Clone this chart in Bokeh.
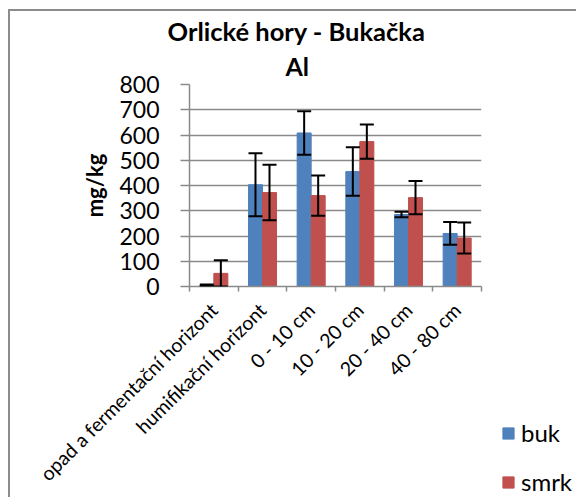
import numpy as np
from bokeh.plotting import figure
from bokeh.layouts import row, column, Spacer
from bokeh.models import (ColumnDataSource, Whisker, TeeHead, FixedTicker, Legend,
                          LegendItem, Title, Range1d)
from bokeh.embed import file_html
from bokeh.resources import INLINE

categories = ["opad a fermentační horizont", "humifikační horizont", "0 - 10 cm",
              "10 - 20 cm", "20 - 40 cm", "40 - 80 cm"]
buk = [5, 403, 608, 455, 285, 210]
buk_err = [3, 125, 86, 96, 11, 45]
smrk = [52, 372, 360, 574, 352, 192]
smrk_err = [52, 110, 80, 68, 66, 61]
y_ticks = [0, 100, 200, 300, 400, 500, 600, 700, 800]
series_names = ["buk", "smrk"]

FONT = "Lato"
GRID = "#8a8a8a"
BLUE = "#4F81BD"
RED = "#C0504D"

n = len(categories)
centers = np.arange(n) + 0.5
bw = 0.288
off = 0.144

src = ColumnDataSource(dict(
    xb=centers - off, xs=centers + off,
    buk=buk, smrk=smrk,
    bu=np.array(buk) + np.array(buk_err), bl=np.array(buk) - np.array(buk_err),
    su=np.array(smrk) + np.array(smrk_err), sl=np.array(smrk) - np.array(smrk_err),
))

p = figure(frame_width=292, frame_height=202, output_backend="svg", toolbar_location=None,
           x_range=Range1d(0, n), y_range=Range1d(0, 800),
           min_border_left=179, min_border_right=12, min_border_top=73,
           min_border_bottom=211)
p.outline_line_color = None
p.background_fill_color = "white"
p.border_fill_color = "white"

rb = p.vbar(x="xb", top="buk", width=bw, source=src, fill_color=BLUE, line_color=BLUE)
rs = p.vbar(x="xs", top="smrk", width=bw, source=src, fill_color=RED, line_color=RED)

for base, up, lo in (("xb", "bu", "bl"), ("xs", "su", "sl")):
    w = Whisker(base=base, upper=up, lower=lo, source=src, line_width=2, line_color="black",
                level="overlay",
                upper_head=TeeHead(size=14, line_width=2, line_color="black"),
                lower_head=TeeHead(size=14, line_width=2, line_color="black"))
    p.add_layout(w)

# x axis
xa = p.xaxis[0]
xa.ticker = FixedTicker(ticks=list(centers), minor_ticks=list(range(n + 1)))
xa.major_label_overrides = {float(c): lab for c, lab in zip(centers, categories)}
xa.major_label_orientation = np.pi / 4
xa.major_label_text_font = FONT
xa.major_label_text_font_size = "19.5px"
xa.major_label_text_color = "black"
xa.major_tick_line_color = None
xa.minor_tick_line_color = GRID
xa.minor_tick_line_width = 1.5
xa.minor_tick_in = 0
xa.minor_tick_out = 5
xa.axis_line_color = GRID
xa.axis_line_width = 1.5
xa.major_label_standoff = 14

# y axis
ya = p.yaxis[0]
ya.ticker = FixedTicker(ticks=y_ticks)
ya.minor_tick_line_color = None
ya.major_tick_line_color = GRID
ya.major_tick_line_width = 1.5
ya.major_tick_in = 0
ya.major_tick_out = 9
ya.axis_line_color = GRID
ya.axis_line_width = 1.5
ya.major_label_text_font = FONT
ya.major_label_text_font_size = "23px"
ya.major_label_text_color = "black"
ya.major_label_standoff = 21
ya.axis_label = "mg/kg"
ya.axis_label_text_font = FONT
ya.axis_label_text_font_style = "bold"
ya.axis_label_text_font_size = "22px"
ya.axis_label_text_color = "black"
ya.axis_label_standoff = 8

p.xgrid.grid_line_color = None
p.ygrid.grid_line_color = GRID
p.ygrid.grid_line_width = 1.5

# titles: p.title is outermost, added Title is next to the frame
p.title.text = "Orlické hory - Bukačka"
p.title.align = "left"
p.title.offset = -22
p.title.standoff = 0
p.title.text_font = FONT
p.title.text_font_style = "bold"
p.title.text_font_size = "25.5px"
p.title.text_color = "black"
t2 = Title(text="Al", align="left", offset=96, standoff=7,
           text_font=FONT, text_font_style="bold", text_font_size="25px",
           text_color="black")
p.add_layout(t2, "above")

# legend figure (bottom right)
p2 = figure(width=83, height=81, output_backend="svg", toolbar_location=None,
            x_range=Range1d(-20, -10), y_range=Range1d(0, 1), min_border=0)
p2.axis.visible = False
p2.grid.grid_line_color = None
p2.outline_line_color = None
p2.border_fill_color = "white"
p2.background_fill_color = "white"
lb = p2.vbar(x="xb", top="buk", width=bw, source=src, fill_color=BLUE, line_color=BLUE)
ls = p2.vbar(x="xs", top="smrk", width=bw, source=src, fill_color=RED, line_color=RED)
legend = Legend(items=[LegendItem(label=series_names[0], renderers=[lb]),
                       LegendItem(label=series_names[1], renderers=[ls])],
                location=(8, 1), orientation="vertical",
                glyph_width=14, glyph_height=14, label_height=16, label_standoff=6,
                spacing=20, padding=0, margin=0,
                label_text_font=FONT, label_text_font_size="24px",
                label_text_color="black",
                border_line_alpha=0, background_fill_alpha=0)
p2.add_layout(legend)

BORDER = {"background-color": "#8c8c8c"}
right_col = column(Spacer(width=83, height=405), p2, spacing=0)
chart = row(p, right_col, spacing=0)
inner = column(Spacer(width=566, height=2, styles=BORDER), chart, spacing=0)
body = row(Spacer(width=8, height=488), Spacer(width=2, height=488, styles=BORDER),
           inner, spacing=0)
layout = column(Spacer(width=576, height=9), body, spacing=0)

open("out.html", "w").write(file_html(layout, INLINE))
